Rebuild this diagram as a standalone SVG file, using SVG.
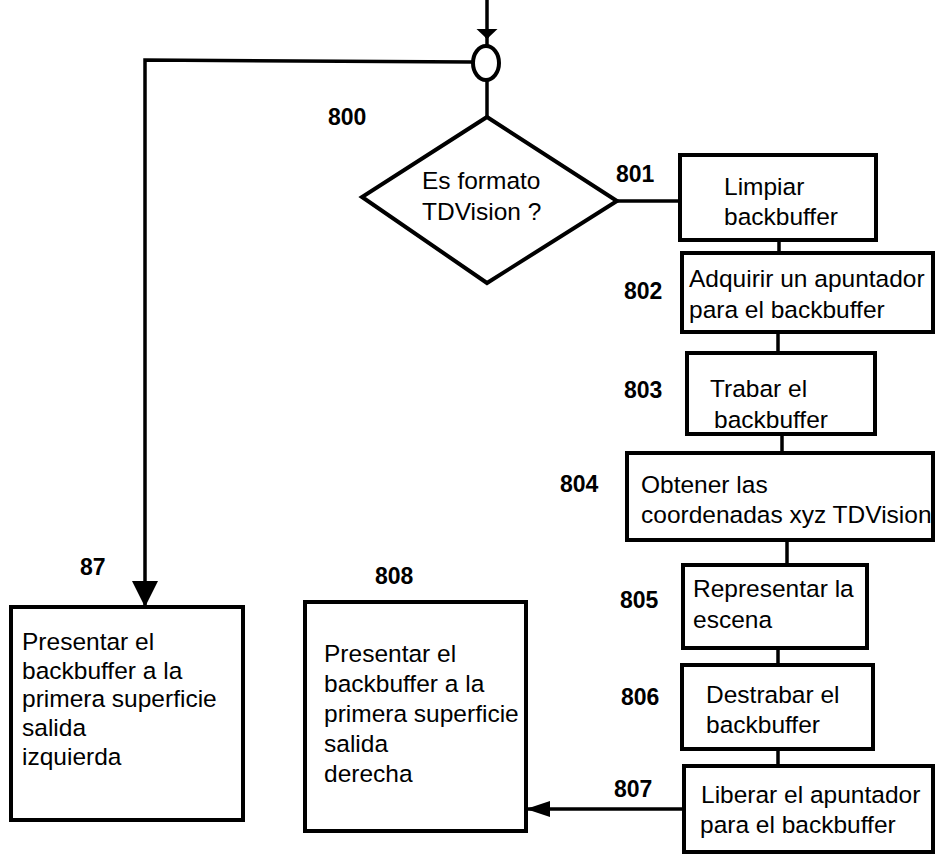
<svg xmlns="http://www.w3.org/2000/svg" width="936" height="858" viewBox="0 0 936 858">
<style>
.box{fill:#fff;stroke:#000;stroke-width:4}
.dia{fill:#fff;stroke:#000;stroke-width:4;stroke-linejoin:miter}
.t{font-family:"Liberation Sans",Arial,sans-serif;font-size:24.5px;fill:#000}
.lb{font-family:"Liberation Sans",Arial,sans-serif;font-size:23px;font-weight:bold;fill:#000}
.ln{fill:none;stroke:#000;stroke-width:3.5}
</style>
<defs>
<marker id="arrowBig" markerUnits="userSpaceOnUse" markerWidth="26" markerHeight="28" refX="25" refY="13" orient="auto" viewBox="0 0 26 28">
<path d="M0,0 L26,13 L0,26 z" fill="#000"/>
</marker>
<marker id="arrowMid" markerUnits="userSpaceOnUse" markerWidth="24" markerHeight="18" refX="23" refY="8" orient="auto" viewBox="0 0 24 18">
<path d="M0,0 L24,8 L0,16 z" fill="#000"/>
</marker>
<marker id="arrowSmall" markerUnits="userSpaceOnUse" markerWidth="10" markerHeight="22" refX="9" refY="10.5" orient="auto" viewBox="0 0 10 22">
<path d="M0,0 L10,10.5 L0,21 z" fill="#000"/>
</marker>
</defs>

<g id="connectors">
<path class="ln" d="M487,0 L487,38" marker-end="url(#arrowSmall)"/>
<path class="ln" d="M487,36 L487,46"/>
<path class="ln" d="M487,80 L487,117"/>
<path class="ln" d="M472,62 L145,60 L145,606" marker-end="url(#arrowBig)"/>
<path class="ln" d="M617,201 L680,201"/>
<path class="ln" d="M779,240 L779,253"/>
<path class="ln" d="M778,332 L778,353"/>
<path class="ln" d="M782,434 L782,453"/>
<path class="ln" d="M787,540 L787,565"/>
<path class="ln" d="M778,648 L778,665"/>
<path class="ln" d="M778,748 L778,766"/>
<path class="ln" d="M685,809 L527,809" marker-end="url(#arrowMid)"/>
</g>

<g id="junction">
<ellipse cx="486" cy="63" rx="13" ry="17" fill="#fff" stroke="#000" stroke-width="4"/>
</g>

<g id="n800">
<polygon class="dia" points="487,117 617,201 487,283 362,197"/>
<text class="t" x="422" y="189">Es formato</text>
<text class="t" x="422" y="220">TDVision ?</text>
<text class="lb" x="328" y="125">800</text>
</g>

<g id="n801">
<rect class="box" x="680" y="155" width="196" height="85"/>
<text class="t" x="724" y="195">Limpiar</text>
<text class="t" x="724" y="225">backbuffer</text>
<text class="lb" x="616" y="182">801</text>
</g>

<g id="n802">
<rect class="box" x="682" y="253" width="251" height="79"/>
<text class="t" x="689" y="287">Adquirir un apuntador</text>
<text class="t" x="689" y="318">para el backbuffer</text>
<text class="lb" x="624" y="299">802</text>
</g>

<g id="n803">
<rect class="box" x="687" y="353" width="188" height="81"/>
<text class="t" x="710" y="397">Trabar el</text>
<text class="t" x="714" y="428">backbuffer</text>
<text class="lb" x="624" y="398">803</text>
</g>

<g id="n804">
<rect class="box" x="627" y="453" width="306" height="87"/>
<text class="t" x="641" y="493">Obtener las</text>
<text class="t" x="641" y="523">coordenadas xyz TDVision</text>
<text class="lb" x="560" y="492">804</text>
</g>

<g id="n805">
<rect class="box" x="683" y="565" width="184" height="83"/>
<text class="t" x="693" y="597">Representar la</text>
<text class="t" x="693" y="628">escena</text>
<text class="lb" x="620" y="608">805</text>
</g>

<g id="n806">
<rect class="box" x="682" y="665" width="191" height="84"/>
<text class="t" x="706" y="703">Destrabar el</text>
<text class="t" x="706" y="733">backbuffer</text>
<text class="lb" x="621" y="705">806</text>
</g>

<g id="n807">
<rect class="box" x="684" y="766" width="249" height="86"/>
<text class="t" x="701" y="803">Liberar el apuntador</text>
<text class="t" x="700" y="833">para el backbuffer</text>
<text class="lb" x="614" y="797">807</text>
</g>

<g id="n87">
<rect class="box" x="11" y="607" width="232" height="213"/>
<text class="t" x="22" y="650">Presentar el</text>
<text class="t" x="22" y="679">backbuffer a la</text>
<text class="t" x="22" y="707"> primera superficie</text>
<text class="t" x="22" y="736">salida</text>
<text class="t" x="22" y="765">izquierda</text>
<text class="lb" x="80" y="575">87</text>
</g>

<g id="n808">
<rect class="box" x="305" y="602" width="221" height="229"/>
<text class="t" x="324" y="662">Presentar el</text>
<text class="t" x="324" y="692">backbuffer a la</text>
<text class="t" x="324" y="722">primera superficie</text>
<text class="t" x="324" y="752">salida</text>
<text class="t" x="324" y="782">derecha</text>
<text class="lb" x="375" y="584">808</text>
</g>
</svg>
